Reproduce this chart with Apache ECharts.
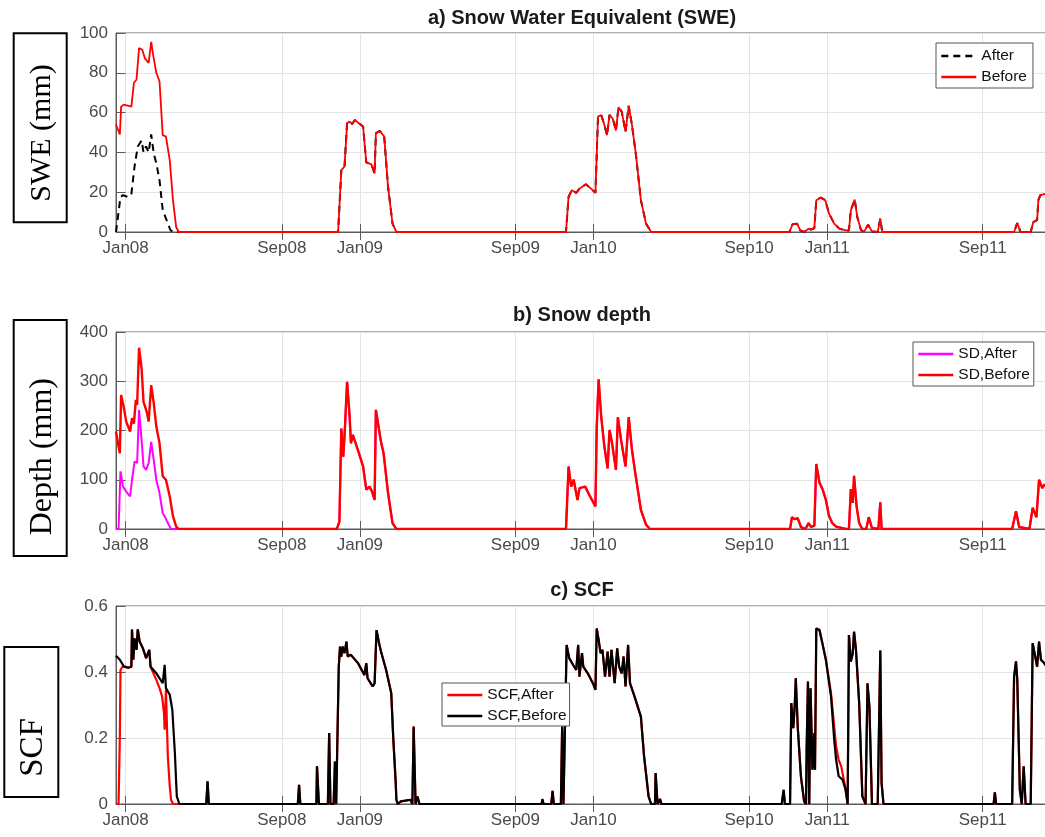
<!DOCTYPE html>
<html>
<head>
<meta charset="utf-8">
<title>SWE, snow depth and SCF</title>
<script src="https://cdn.jsdelivr.net/npm/echarts@6/dist/echarts.min.js"></script>
<style>
  html, body { margin: 0; padding: 0; background: #fff; }
  #chart { width: 1045px; height: 837px; }
</style>
</head>
<body>
<div id="chart"></div>
<script>
// x values are days since 1 Jan 2008
const tickDays = [0, 244, 366, 609, 731, 974, 1096, 1339]
const tickLabels = ['Jan08', 'Sep08', 'Jan09', 'Sep09', 'Jan10', 'Sep10', 'Jan11', 'Sep11']

// a) SWE (mm)
const sweAfterS1 = [[-15, 0], [-12, 1], [-8, 17.6], [-4, 18.5], [4, 17.6], [9, 19], [14, 33], [19, 43], [25, 46],
  [28, 40], [32, 43], [36, 40], [40, 49], [44, 39.5], [48, 34.5], [53, 26], [58, 11], [64, 6], [70, 1], [74, 0]]
const sweBeforeS1 = [[-15, 54], [-12, 53], [-9, 49], [-7, 63], [-3, 64], [9, 63], [13, 75], [17, 76.5], [21, 92.4],
  [26, 91.6], [30, 87.4], [33, 87], [36, 85], [40, 95.5], [43, 89], [48, 80], [53, 75.6], [58, 48.7], [63, 48],
  [69, 36], [74, 16], [79, 2.5], [83, 0]]
const sweLater = [[332, 0], [337, 31], [342, 33], [346, 54.6], [350, 55.5], [354, 54.3], [358, 56.3], [363, 55],
  [371, 53], [376, 35], [384, 34], [389, 29.4], [391, 49.6], [397, 50.8], [404, 48], [410, 22.7], [417, 4.2], [423, 0],
  [688, 0], [692, 17.6], [697, 21], [704, 19.7], [709, 21.8], [719, 24], [727, 21.8], [734, 19.7], [738, 58],
  [743, 58.8], [748, 53.8], [752, 48.7], [756, 58.8], [761, 57], [766, 51], [770, 62.7], [775, 60.5], [781, 50.4],
  [786, 63.4], [791, 53.8], [797, 39.5], [805, 16], [813, 4.2], [821, 0],
  [1037, 0], [1042, 3.9], [1049, 4.2], [1054, 0.8], [1060, 0], [1067, 1.7], [1071, 1.2], [1076, 2], [1079, 16],
  [1086, 17.3], [1093, 16], [1099, 9.2], [1107, 4.2], [1115, 1.7], [1125, 0.8], [1130, 0.8], [1133, 10.9],
  [1136, 11.3], [1139, 16.3], [1143, 7.6], [1149, 0.8], [1154, 0.3], [1160, 3.7], [1166, 0.3], [1175, 0],
  [1179, 6.7], [1182, 0],
  [1388, 0], [1393, 4.5], [1398, 0], [1414, 0], [1418, 5], [1424, 6], [1426, 16], [1429, 18.5], [1435, 19], [1441, 19]]

// b) snow depth (mm)
const sdAfterS1 = [[-15, 0], [-11, 0], [-8, 117], [-4, 86], [1, 76], [7, 66], [10, 100], [14, 137], [18, 134],
  [21, 242], [25, 181], [28, 127], [32, 120], [36, 134], [40, 177], [44, 140], [48, 100], [53, 73], [58, 32],
  [61, 26], [66, 12], [71, 0]]
const sdBeforeS1 = [[-15, 198], [-12, 174], [-9, 154], [-7, 272], [-3, 248], [1, 218], [7, 198], [10, 225],
  [13, 214], [16, 262], [18, 252], [21, 368], [25, 326], [28, 258], [31, 255], [33, 238], [36, 218], [40, 292],
  [44, 255], [48, 208], [53, 174], [58, 107], [63, 100], [69, 66], [74, 26], [79, 5], [83, 0]]
const sdLater = [[330, 0], [334, 15], [337, 204], [340, 147], [342, 188], [346, 299], [350, 228], [352, 174],
  [355, 191], [358, 188], [363, 160], [371, 127], [376, 80], [381, 86], [385, 76], [389, 59], [391, 242], [396, 201],
  [399, 177], [403, 154], [410, 73], [417, 12], [423, 0],
  [680, 0], [683, 4], [688, 0], [692, 127], [696, 86], [700, 100], [706, 59], [709, 83], [718, 86], [724, 70],
  [734, 46], [736, 208], [739, 304], [743, 228], [748, 167], [753, 123], [756, 201], [760, 174], [766, 120],
  [769, 227], [774, 181], [781, 127], [786, 227], [791, 161], [797, 107], [805, 39], [813, 9], [819, 0],
  [1038, 0], [1041, 24], [1045, 20], [1050, 22], [1055, 4], [1062, 0], [1067, 12], [1071, 4], [1076, 7],
  [1079, 132], [1084, 94], [1089, 80], [1094, 59], [1099, 26], [1104, 12], [1110, 5], [1125, 0], [1130, 0],
  [1133, 81], [1136, 53], [1138, 108], [1142, 46], [1146, 12], [1151, 0], [1157, 0], [1161, 24], [1166, 2],
  [1176, 0], [1179, 54], [1181, 0],
  [1385, 0], [1391, 36], [1396, 4], [1399, 0], [1412, 0], [1417, 43], [1423, 24], [1427, 100], [1432, 83],
  [1435, 90], [1441, 85]]

// c) SCF
const scfAfterS1 = [[-15, 0], [-11, 0], [-9, 0.205], [-8, 0.406], [-5, 0.416], [-3, 0.418], [4, 0.413], [9, 0.416],
  [10, 0.529], [12, 0.437], [14, 0.502], [17, 0.467], [19, 0.529], [22, 0.492], [27, 0.472], [32, 0.442],
  [37, 0.467], [39, 0.416], [48, 0.376], [53, 0.351], [57, 0.326], [60, 0.275], [61, 0.225], [63, 0.346],
  [66, 0.144], [69, 0.053], [71, 0.013], [74, 0]]
const scfBeforeS1 = [[-15, 0.449], [-9, 0.437], [-3, 0.418], [4, 0.413], [9, 0.416], [10, 0.529], [12, 0.437],
  [14, 0.502], [17, 0.467], [19, 0.529], [22, 0.492], [27, 0.472], [32, 0.442], [37, 0.467], [39, 0.416],
  [48, 0.396], [58, 0.366], [61, 0.422], [63, 0.351], [69, 0.331], [73, 0.285], [77, 0.154], [80, 0.023], [84, 0]]
const scfS2S3 = [[126, 0], [128, 0.069], [130, 0], [269, 0], [271, 0.058], [273, 0], [298, 0], [299, 0.114],
  [302, 0], [316, 0], [318, 0.215], [320, 0], [325, 0], [327, 0.129], [329, 0],
  [331, 0], [333, 0.416], [335, 0.477], [337, 0.447], [339, 0.477], [342, 0.457], [345, 0.492], [347, 0.447],
  [352, 0.452], [363, 0.427], [373, 0.391], [376, 0.427], [378, 0.381], [386, 0.356], [389, 0.366], [392, 0.527],
  [396, 0.487], [399, 0.462], [407, 0.406], [415, 0.336], [418, 0.205], [422, 0.064], [423, 0.013], [425, 0],
  [430, 0.008], [437, 0.01], [445, 0.013], [448, 0], [450, 0.235], [453, 0], [456, 0.023], [459, 0],
  [650, 0], [651, 0.015], [653, 0], [665, 0], [667, 0.04], [669, 0],
  [680, 0], [682, 0.235], [684, 0], [686, 0], [689, 0.482], [693, 0.442], [699, 0.422], [704, 0.406], [707, 0.482],
  [709, 0.386], [713, 0.457], [715, 0.416], [722, 0.396], [730, 0.366], [734, 0.346], [736, 0.532], [739, 0.497],
  [742, 0.457], [745, 0.467], [749, 0.386], [753, 0.462], [756, 0.386], [759, 0.467], [764, 0.366], [768, 0.472],
  [771, 0.416], [775, 0.396], [778, 0.447], [781, 0.356], [785, 0.482], [788, 0.366], [795, 0.326], [805, 0.265],
  [810, 0.144], [817, 0.023], [821, 0], [827, 0], [828, 0.094], [831, 0], [835, 0.015], [837, 0]]
const scfAfterS4 = [[1025, 0], [1028, 0.043], [1030, 0], [1038, 0], [1040, 0.306], [1043, 0.23], [1045, 0.285],
  [1047, 0.381], [1050, 0.235], [1055, 0.084], [1060, 0.008], [1063, 0], [1064, 0.174], [1066, 0.371],
  [1068, 0], [1070, 0.351], [1073, 0.104], [1076, 0.215], [1077, 0.104], [1079, 0.532], [1084, 0.527],
  [1088, 0.492], [1094, 0.437], [1102, 0.336], [1107, 0.235], [1110, 0.174], [1114, 0.134], [1118, 0.114],
  [1123, 0.064], [1128, 0], [1130, 0.512], [1133, 0.432], [1136, 0.457], [1138, 0.522], [1141, 0.467],
  [1146, 0.306], [1151, 0.023], [1156, 0], [1159, 0.366], [1162, 0.295], [1166, 0], [1175, 0], [1179, 0.465],
  [1181, 0.064], [1184, 0]]
const scfBeforeS4 = [[1025, 0], [1028, 0.043], [1030, 0], [1038, 0], [1040, 0.306], [1043, 0.23], [1045, 0.285],
  [1047, 0.381], [1050, 0.235], [1055, 0.084], [1060, 0.008], [1063, 0], [1064, 0.174], [1066, 0.371],
  [1068, 0], [1070, 0.351], [1073, 0.104], [1076, 0.215], [1077, 0.104], [1079, 0.532], [1084, 0.527],
  [1088, 0.492], [1094, 0.437], [1102, 0.326], [1107, 0.195], [1110, 0.134], [1114, 0.084], [1120, 0.074],
  [1125, 0.043], [1128, 0], [1130, 0.512], [1133, 0.432], [1136, 0.457], [1138, 0.522], [1141, 0.467],
  [1146, 0.306], [1151, 0.023], [1156, 0], [1159, 0.366], [1162, 0.295], [1166, 0], [1175, 0], [1179, 0.465],
  [1181, 0.064], [1184, 0]]
const scfS5 = [[1356, 0], [1358, 0.035], [1360, 0], [1385, 0], [1388, 0.386], [1391, 0.432], [1393, 0.376],
  [1397, 0.043], [1400, 0], [1403, 0.114], [1406, 0], [1414, 0], [1417, 0.487], [1421, 0.447], [1424, 0.416],
  [1427, 0.492], [1430, 0.437], [1435, 0.427], [1441, 0.41]]

const sweAfter = [...sweAfterS1, ...sweLater]
const sweBefore = [...sweBeforeS1, ...sweLater]
const sdAfter = [...sdAfterS1, ...sdLater]
const sdBefore = [...sdBeforeS1, ...sdLater]
const scfAfter = [...scfAfterS1, ...scfS2S3, ...scfAfterS4, ...scfS5]
const scfBefore = [...scfBeforeS1, ...scfS2S3, ...scfBeforeS4, ...scfS5]

const xMin = -15, xMax = 1441
const frameColor = '#5c5c5c'
const gridColor = '#e4e4e4'
const tickText = '#4a4a4a'
const sans = 'Liberation Sans'
const serif = 'Liberation Serif'

const grids = [
  { left: 116, top: 33, width: 932, height: 199 },
  { left: 116, top: 332, width: 932, height: 197 },
  { left: 116, top: 606, width: 932, height: 198 }
]
const yRanges = [[0, 100, 20], [0, 400, 100], [0, 0.6, 0.2]]

const xAxes = [], yAxes = []
for (let i = 0; i < 3; i++) {
  xAxes.push({
    type: 'value', gridIndex: i, min: xMin, max: xMax, position: 'bottom',
    axisLine: { show: true, onZero: false, lineStyle: { color: frameColor } },
    axisTick: { show: true, inside: true, length: 8, customValues: tickDays, lineStyle: { color: frameColor } },
    axisLabel: {
      customValues: tickDays, margin: 8, fontFamily: sans, fontSize: 17, color: tickText,
      formatter: v => tickLabels[tickDays.indexOf(v)]
    },
    splitLine: { show: true, lineStyle: { color: gridColor } }
  })
  xAxes.push({
    type: 'value', gridIndex: i, min: xMin, max: xMax, position: 'top',
    axisLine: { show: false },
    axisTick: { show: true, inside: true, length: 8, customValues: tickDays, lineStyle: { color: frameColor } },
    axisLabel: { show: false },
    splitLine: { show: false }
  })
  const [lo, hi, step] = yRanges[i]
  yAxes.push({
    type: 'value', gridIndex: i, min: lo, max: hi, interval: step, position: 'left',
    axisLine: { show: true, onZero: false, lineStyle: { color: frameColor } },
    axisTick: { show: true, inside: true, length: 8, lineStyle: { color: frameColor } },
    axisLabel: { margin: 8, fontFamily: sans, fontSize: 17, color: tickText },
    splitLine: { show: true, lineStyle: { color: gridColor } }
  })
  yAxes.push({
    type: 'value', gridIndex: i, min: lo, max: hi, interval: step, position: 'right',
    axisLine: { show: false },
    axisTick: { show: true, inside: true, length: 8, lineStyle: { color: frameColor } },
    axisLabel: { show: false },
    splitLine: { show: false }
  })
}

function line(name, panel, data, color, width, type) {
  return {
    name: name, type: 'line', xAxisIndex: panel * 2, yAxisIndex: panel * 2, data: data,
    symbol: 'none', showSymbol: false, silent: true,
    lineStyle: { color: color, width: width, type: type || 'solid' },
    itemStyle: { color: color }
  }
}

// itemStyle opacity 0 hides the marker ECharts puts in the middle of a line legend icon
const legendBase = {
  orient: 'vertical', itemWidth: 35, itemHeight: 16, itemGap: 5,
  borderColor: '#555', borderWidth: 1, backgroundColor: '#fff', selectedMode: false,
  itemStyle: { opacity: 0 },
  lineStyle: { width: 2.6 },
  textStyle: { fontFamily: sans, fontSize: 15.5, color: '#111', lineHeight: 16 }
}

const titleStyle = { fontFamily: sans, fontSize: 20, fontWeight: 'bold', color: '#1a1a1a' }

const chart = echarts.init(document.getElementById('chart'))
chart.setOption({
  animation: false,
  backgroundColor: '#fff',
  title: [
    { text: 'a) Snow Water Equivalent (SWE)', left: 582, top: 8, textAlign: 'center', padding: 0, textStyle: titleStyle },
    { text: 'b) Snow depth', left: 582, top: 305, textAlign: 'center', padding: 0, textStyle: titleStyle },
    { text: 'c) SCF', left: 582, top: 580, textAlign: 'center', padding: 0, textStyle: titleStyle }
  ],
  grid: grids.map(g => Object.assign({
    show: true, borderColor: frameColor, borderWidth: 1, containLabel: false, outerBoundsMode: 'none'
  }, g)),
  xAxis: xAxes,
  yAxis: yAxes,
  legend: [
    Object.assign({}, legendBase, { data: ['After', 'Before'], left: 936, top: 43, padding: [5, 6, 3, 4] }),
    Object.assign({}, legendBase, { data: ['SD,After', 'SD,Before'], left: 913, top: 342, padding: [4, 4, 3, 4] }),
    Object.assign({}, legendBase, { data: ['SCF,After', 'SCF,Before'], left: 442, top: 683, padding: [4, 3, 2, 4] })
  ],
  graphic: [
    { type: 'rect', shape: { x: 13.7, y: 33.3, width: 53, height: 189 },
      style: { fill: '#fff', stroke: '#000', lineWidth: 2 } },
    { type: 'text', x: 42.5, y: 133, rotation: Math.PI / 2,
      style: { text: 'SWE (mm)', fontFamily: serif, fontSize: 30, fill: '#000', align: 'center', verticalAlign: 'middle' } },
    { type: 'rect', shape: { x: 13.7, y: 320, width: 53, height: 236 },
      style: { fill: '#fff', stroke: '#000', lineWidth: 2 } },
    { type: 'text', x: 42.5, y: 456.7, rotation: Math.PI / 2,
      style: { text: 'Depth (mm)', fontFamily: serif, fontSize: 32, fill: '#000', align: 'center', verticalAlign: 'middle' } },
    { type: 'rect', shape: { x: 4.3, y: 647, width: 54, height: 150 },
      style: { fill: '#fff', stroke: '#000', lineWidth: 2 } },
    { type: 'text', x: 33.8, y: 747.5, rotation: Math.PI / 2,
      style: { text: 'SCF', fontFamily: serif, fontSize: 33, fill: '#000', align: 'center', verticalAlign: 'middle' } }
  ],
  series: [
    line('After', 0, sweAfter, '#000000', 2, [7, 5]),
    line('Before', 0, sweBefore, '#ff0000', 1.8),
    line('SD,After', 1, sdAfter, '#ff00ff', 2),
    line('SD,Before', 1, sdBefore, '#ff0000', 2.4),
    line('SCF,After', 2, scfAfter, '#ff0000', 2.2),
    line('SCF,Before', 2, scfBefore, '#000000', 2.2)
  ]
})
</script>
</body>
</html>
